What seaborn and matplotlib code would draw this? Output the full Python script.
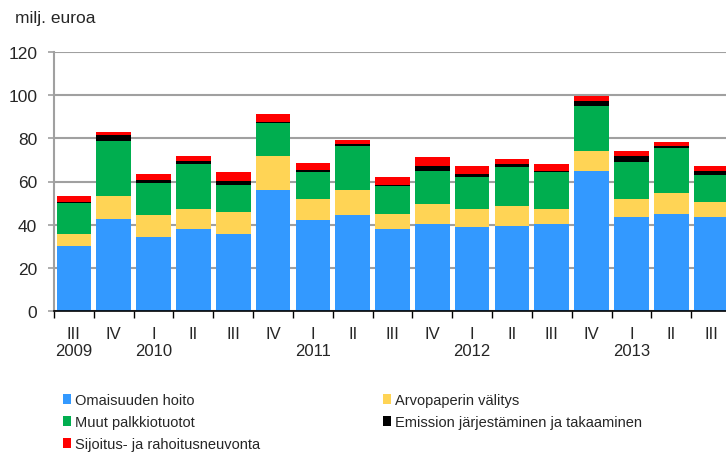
import pandas as pd
import matplotlib
matplotlib.use("Agg")
import matplotlib.pyplot as plt
import seaborn as sns
from matplotlib.patches import Patch

quarters = ['III', 'IV', 'I', 'II', 'III', 'IV', 'I', 'II', 'III', 'IV',
            'I', 'II', 'III', 'IV', 'I', 'II', 'III']
years = ['2009', '', '2010', '', '', '', '2011', '', '', '',
         '2012', '', '', '', '2013', '', '']

# milj. euroa
omaisuus = [30.0, 42.7, 34.5, 38.2, 35.9, 56.2, 42.0, 44.3, 38.2, 40.4,
            39.0, 39.6, 40.4, 65.0, 43.5, 45.1, 43.5]
arvopaperi = [5.9, 10.4, 9.8, 9.0, 9.9, 15.8, 9.7, 11.9, 6.9, 9.0,
              8.2, 9.0, 6.7, 9.0, 8.2, 9.7, 6.8]
muut = [14.3, 25.6, 15.0, 21.1, 12.7, 14.9, 12.9, 20.3, 12.8, 15.6,
        15.0, 18.0, 17.3, 20.9, 17.2, 20.9, 12.6]
emissio = [0.3, 2.9, 1.2, 1.2, 1.6, 0.7, 0.7, 0.8, 0.5, 2.4,
           1.4, 1.5, 0.6, 2.2, 2.9, 0.8, 2.1]
sijoitus = [2.8, 1.4, 3.1, 2.3, 4.2, 3.6, 3.5, 2.1, 3.7, 3.8,
            3.8, 2.2, 3.1, 2.5, 2.2, 2.0, 2.4]

series = [
    ('Omaisuuden hoito', omaisuus, '#3399FF'),
    ('Arvopaperin välitys', arvopaperi, '#FFD455'),
    ('Muut palkkiotuotot', muut, '#00AE4F'),
    ('Emission järjestäminen ja takaaminen', emissio, '#000000'),
    ('Sijoitus- ja rahoitusneuvonta', sijoitus, '#FF0000'),
]

keys = [f"{i}" for i in range(len(quarters))]
df = pd.DataFrame({'key': keys})
cum = [0.0] * len(keys)
for name, vals, color in series:
    cum = [c + v for c, v in zip(cum, vals)]
    df[name] = cum

sns.set_style('white')
plt.rcParams['font.family'] = ['Liberation Sans', 'DejaVu Sans']

fig = plt.figure(figsize=(7.26, 4.6), dpi=100)
ax = fig.add_axes([54 / 726, 1 - 312 / 460, 677 / 726, 259 / 460])

# tallest stack first, then the lower ones on top of it
for name, vals, color in reversed(series):
    sns.barplot(data=df, x='key', y=name, order=keys, color=color,
                saturation=1, width=0.87, ax=ax, errorbar=None,
                linewidth=0, zorder=3)

ax.set_ylim(0, 120)
ax.set_xlim(-0.5, len(keys) - 0.5)
ax.set_yticks(range(0, 121, 20))
ax.yaxis.grid(True, color='#A0A0A0', linewidth=1.5, zorder=0)
ax.set_axisbelow(True)
ax.set_xlabel('')
ax.set_ylabel('')

ax.set_xticks(range(len(keys)))
ax.set_xticklabels([f"{q}\n{y if y else ' '}" for q, y in zip(quarters, years)],
                   fontsize=12, linespacing=1.15)
ax.set_xticks([i - 0.5 for i in range(len(keys) + 1)], minor=True)
ax.tick_params(axis='x', which='major', length=0, pad=11)
ax.tick_params(axis='x', which='minor', length=5, width=1, color='black',
               direction='out', bottom=True)
ax.tick_params(axis='y', length=4, width=1.2, color='#A0A0A0',
               direction='out', labelsize=12.5, pad=8, left=True)

for s in ['top', 'right']:
    ax.spines[s].set_visible(False)
ax.spines['left'].set_color('#A0A0A0')
ax.spines['left'].set_linewidth(1.5)
ax.spines['bottom'].set_color('black')
ax.spines['bottom'].set_linewidth(1.2)
ax.spines['bottom'].set_zorder(5)

fig.text(15 / 726, 1 - 18 / 460, 'milj. euroa', fontsize=12.5, va='center', ha='left')

def handles(idx):
    return [Patch(facecolor=series[i][2], edgecolor='none', label=series[i][0]) for i in idx]

leg_kw = dict(frameon=False, fontsize=10.5, handlelength=0.55, handleheight=0.7,
              handletextpad=0.25, labelspacing=0.55, loc='upper left', borderpad=0,
              borderaxespad=0)
leg1 = fig.legend(handles=handles([0, 2, 4]), bbox_to_anchor=(63 / 726, 1 - 394 / 460), **leg_kw)
leg2 = fig.legend(handles=handles([1, 3]), bbox_to_anchor=(383 / 726, 1 - 394 / 460), **leg_kw)

fig.savefig('out.png', dpi=100)
